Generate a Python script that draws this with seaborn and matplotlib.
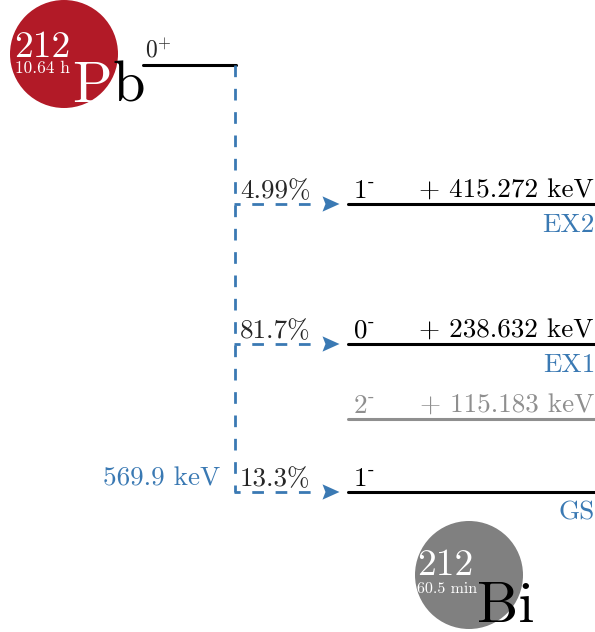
import matplotlib
matplotlib.use("Agg")
import matplotlib.pyplot as plt
from matplotlib.patches import Circle
from matplotlib.path import Path
from matplotlib.markers import MarkerStyle
import numpy as np
import pandas as pd
import seaborn as sns

# ---- decay data: 212Pb -> 212Bi (beta-minus) ----
parent_symbol = "Pb"
parent_mass = 212
parent_halflife = "10.64 h"
parent_spin = r"$0^{+}$"
daughter_symbol = "Bi"
daughter_mass = 212
daughter_halflife = "60.5 min"
q_value_kev = 569.9

level_names = ["EX2", "EX1", "", "GS"]
level_energies_kev = [415.272, 238.632, 115.183, 0.0]
level_spins = ["1", "0", "2", "1"]
level_parities = ["-", "-", "-", "-"]
branching_pct = [4.99, 81.7, np.nan, 13.3]

# ---- styling ----
sns.set_theme(style="white")
plt.rcParams["font.family"] = ["cmr10", "DejaVu Serif"]
plt.rcParams["mathtext.fontset"] = "cm"
plt.rcParams["axes.unicode_minus"] = False

BLUE = "#3a79b3"
RED = "#b21a27"
GREY_CIRCLE = "#808080"
GREY_LEVEL = "#8f8f8f"
LABEL_PT = 19.5

fig = plt.figure(figsize=(5.95, 6.32), dpi=100)
ax = fig.add_axes([0, 0, 1, 1])
ax.set_xlim(0, 595)
ax.set_ylim(632, 0)
ax.set_axis_off()

# schematic drawing rows (pixels from top) for the parent and each daughter level
parent_row = 65
level_rows = [204, 344, 419, 492]
trunk_x = 235
arrow_tip_x = 340
level_x0, level_x1 = 348, 595

fed = [not np.isnan(b) for b in branching_pct]
level_colors = ["black" if f else GREY_LEVEL for f in fed]

# ---- daughter levels ----
levels_df = pd.DataFrame({
    "x": np.repeat([[level_x0, level_x1]], len(level_rows), axis=0).ravel(),
    "y": np.repeat(level_rows, 2),
    "level": np.repeat([f"L{i}" for i in range(len(level_rows))], 2),
})
sns.lineplot(data=levels_df, x="x", y="y", hue="level", estimator=None,
             palette={f"L{i}": c for i, c in enumerate(level_colors)},
             linewidth=2.2, legend=False, ax=ax)

# ---- parent level ----
parent_df = pd.DataFrame({"x": [143, trunk_x + 1], "y": [parent_row, parent_row]})
sns.lineplot(data=parent_df, x="x", y="y", color="black", linewidth=2.2,
             estimator=None, ax=ax)
ax.text(145, parent_row - 8, parent_spin, fontsize=17, ha="left", va="baseline")

# ---- beta-decay branches ----
fed_rows = [r for r, f in zip(level_rows, fed) if f]
ax.plot([trunk_x, trunk_x], [parent_row, max(fed_rows)], color=BLUE,
        linewidth=2.0, linestyle=(0, (4.2, 4.2)), solid_capstyle="butt")
for row in fed_rows:
    ax.plot([trunk_x - 1, arrow_tip_x - 20], [row, row], color=BLUE,
            linewidth=2.0, linestyle=(2.0, (4.2, 4.2)))

head = Path([(-1.0, -0.9), (1.0, 0.0), (-1.0, 0.9), (-0.65, 0.0), (-1.0, -0.9)],
            [Path.MOVETO, Path.LINETO, Path.LINETO, Path.LINETO, Path.CLOSEPOLY])
heads_df = pd.DataFrame({"x": [arrow_tip_x - 9] * len(fed_rows), "y": fed_rows})
sns.scatterplot(data=heads_df, x="x", y="y", marker=MarkerStyle(head), s=150,
                color=BLUE, edgecolor="none", linewidth=0, ax=ax, zorder=5)

for row, pct in zip(level_rows, branching_pct):
    if not np.isnan(pct):
        ax.text(240, row - 6, f"{pct:.3g}%", fontsize=LABEL_PT,
                ha="left", va="baseline")

ax.text(220, level_rows[-1] - 7, f"{q_value_kev:.1f} keV", fontsize=LABEL_PT,
        color=BLUE, ha="right", va="baseline")

# ---- level labels ----
for row, name, e, spin, par, col in zip(level_rows, level_names,
                                         level_energies_kev, level_spins,
                                         level_parities, level_colors):
    ax.text(353, row - 6, rf"${spin}^{{\text{{{par}}}}}$", fontsize=LABEL_PT,
            color=col, ha="left", va="baseline")
    if e > 0:
        ax.text(594, row - 6, f"+ {e:.3f} keV", fontsize=LABEL_PT,
                color=col, ha="right", va="baseline")
    if name:
        ax.text(595, row + 28, name, fontsize=LABEL_PT, color=BLUE,
                ha="right", va="baseline")

# ---- nuclide badges ----
ax.add_patch(Circle((64, 54), 54, color=RED, zorder=1, linewidth=0))
ax.text(14, 57, str(parent_mass), fontsize=27, color="white", va="baseline")
ax.text(15, 73, parent_halflife, fontsize=12.5, color="white", va="baseline")
ax.text(72, 102, parent_symbol[0], fontsize=42, color="white", va="baseline", zorder=3)
ax.text(112, 102, parent_symbol[1:], fontsize=42, color="black", va="baseline", zorder=3)

ax.add_patch(Circle((469, 575), 54, color=GREY_CIRCLE, zorder=1, linewidth=0))
ax.text(417, 575, str(daughter_mass), fontsize=27, color="white", va="baseline")
ax.text(417, 593, daughter_halflife, fontsize=11.5, color="white", va="baseline")
ax.text(477, 622, daughter_symbol, fontsize=42, color="black", va="baseline", zorder=3)

fig.savefig("out.png", dpi=100)
